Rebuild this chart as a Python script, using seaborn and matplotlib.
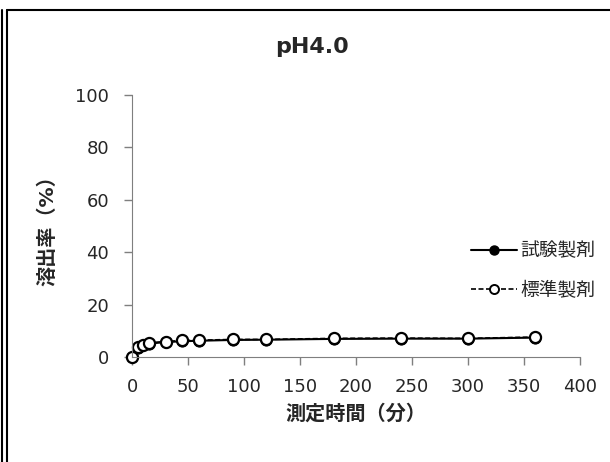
import matplotlib
matplotlib.use("Agg")
import matplotlib.pyplot as plt
from matplotlib.lines import Line2D
import seaborn as sns
import pandas as pd

# data
times = [0, 5, 10, 15, 30, 45, 60, 90, 120, 180, 240, 300, 360]
test_vals = [0, 3.6, 4.4, 5.1, 5.7, 6.0, 6.2, 6.5, 6.6, 6.9, 7.0, 7.0, 7.4]
ref_vals = [0, 3.9, 4.7, 5.4, 5.9, 6.3, 6.4, 6.7, 6.7, 7.1, 7.2, 7.1, 7.6]
series_names = ["試験製剤", "標準製剤"]
title = "pH4.0"
xlabel = "測定時間（分）"
ylabel = "溶出率（%）"

sns.set_style("ticks")
plt.rcParams['font.family'] = ['DejaVu Sans', 'Noto Sans CJK JP']

fig = plt.figure(figsize=(6.1, 4.62), dpi=100)
ax = fig.add_axes([0.2164, 0.2273, 0.7344, 0.5671])

df = pd.DataFrame({"time": times, "test": test_vals, "ref": ref_vals})

sns.lineplot(data=df, x="time", y="test", ax=ax, color="black",
             linestyle="-", linewidth=1.5, marker="o", markersize=8,
             markerfacecolor="black", markeredgecolor="black", clip_on=False)
sns.lineplot(data=df, x="time", y="ref", ax=ax, color="black",
             linestyle=(0, (3, 1.5)), linewidth=1.2, marker="o", markersize=8,
             markerfacecolor="white", markeredgecolor="black",
             markeredgewidth=1.6, clip_on=False)

ax.set_xlim(0, 400)
ax.set_ylim(0, 100)
ax.set_xticks(range(0, 401, 50))
ax.set_yticks(range(0, 101, 20))
ax.tick_params(labelsize=13, colors="#7f7f7f", labelcolor="#262626",
               length=6, width=1)
ax.tick_params(axis="x", pad=9)
ax.tick_params(axis="y", pad=10.5)
for side in ["top", "right"]:
    ax.spines[side].set_visible(False)
for side in ["left", "bottom"]:
    ax.spines[side].set_color("#7f7f7f")

ax.set_xlabel(xlabel, fontsize=14.5, fontweight="bold", labelpad=6)
ax.set_ylabel(ylabel, fontsize=14.5, fontweight="bold", labelpad=13)
fig.text(0.512, 0.898, title, ha="center", va="center",
         fontsize=16, fontweight="bold")

handles = [
    Line2D([], [], color="black", linestyle="-", linewidth=1.5, marker="o",
           markersize=6.5, markerfacecolor="black"),
    Line2D([], [], color="black", linestyle=(0, (3, 1.5)), linewidth=1.2,
           marker="o", markersize=6.5, markerfacecolor="white",
           markeredgewidth=1.4),
]
ax.legend(handles, series_names, loc="center left",
          bbox_to_anchor=(471 / 610, 1 - 270.5 / 462),
          bbox_transform=fig.transFigure, frameon=False, fontsize=13.5,
          handlelength=2.45, handletextpad=0.2, labelspacing=1.1,
          borderpad=0, borderaxespad=0)

# outer frame of the original picture
fig.add_artist(Line2D([7 / 610, 7 / 610], [0, 1 - 10 / 462], color="black",
                      linewidth=1.5, transform=fig.transFigure))
fig.add_artist(Line2D([7 / 610, 1], [1 - 10 / 462, 1 - 10 / 462],
                      color="black", linewidth=1.5, transform=fig.transFigure))
fig.add_artist(Line2D([1.5 / 610, 1.5 / 610], [0, 1 - 10 / 462],
                      color="black", linewidth=1.5, transform=fig.transFigure))

fig.savefig("out.png", dpi=100)
